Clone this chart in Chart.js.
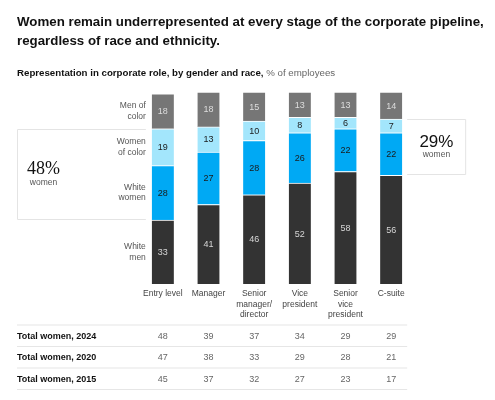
<!DOCTYPE html>
<html><head><meta charset="utf-8">
<script src="https://cdn.jsdelivr.net/npm/chart.js@4.4.0/dist/chart.umd.min.js"></script>
<style>
html,body{margin:0;padding:0;background:#fff;}
#wrap{position:relative;width:495px;height:400px;overflow:hidden;}
canvas{position:absolute;left:0;top:0;}
#title{position:absolute;left:17px;top:13px;font-family:"Liberation Sans",Arial,sans-serif;font-weight:bold;font-size:13.3px;line-height:18.5px;color:#111;white-space:nowrap;}
#sub{position:absolute;left:17px;top:67px;font-family:"Liberation Sans",Arial,sans-serif;font-size:9.7px;line-height:12px;color:#666;white-space:nowrap;}
#sub b{color:#111;}
</style></head>
<body>
<div id="wrap">
<canvas id="c" width="495" height="400"></canvas>
<div id="title">Women remain underrepresented at every stage of the corporate pipeline,<br>regardless of race and ethnicity.</div>
<div id="sub"><b>Representation in corporate role, by gender and race,</b> % of employees</div>
</div>
<script>
const categories = [["Entry level"], ["Manager"], ["Senior", "manager/", "director"], ["Vice", "president"], ["Senior", "vice", "president"], ["C-suite"]];
const whiteMen = [33, 41, 46, 52, 58, 56];
const whiteWomen = [28, 27, 28, 26, 22, 22];
const womenOfColor = [19, 13, 10, 8, 6, 7];
const menOfColor = [18, 18, 15, 13, 13, 14];
const seriesNames = [["White", "men"], ["White", "women"], ["Women", "of color"], ["Men of", "color"]];
const tableLabels = ["Total women, 2024", "Total women, 2020", "Total women, 2015"];
const total2024 = [48, 39, 37, 34, 29, 29];
const total2020 = [47, 38, 33, 29, 28, 21];
const total2015 = [45, 37, 32, 27, 23, 17];
const calloutLeft = ["48%", "women"];
const calloutRight = ["29%", "women"];

const SANS = '"Liberation Sans", Arial, sans-serif';
const SERIF = '"Liberation Serif", "Times New Roman", serif';
const colors = ["#333333", "#00a9f4", "#a3e6fc", "#767676"];
const labelColors = ["#d6d6d6", "#1a1a1a", "#1a1a1a", "#dddddd"];
const tableRows = [total2024, total2020, total2015];

const overlay = {
  id: 'overlay',
  afterDatasetsDraw(chart) {
    const ctx = chart.ctx;
    const area = chart.chartArea;
    const xs = chart.scales.x;
    ctx.save();
    // segment values
    chart.data.datasets.forEach((ds, di) => {
      const meta = chart.getDatasetMeta(di);
      meta.data.forEach((bar, i) => {
        const p = bar.getProps(['x', 'y', 'base'], true);
        ctx.fillStyle = labelColors[di];
        ctx.font = '9px ' + SANS;
        ctx.textAlign = 'center';
        ctx.textBaseline = 'middle';
        ctx.fillText(String(ds.data[i]), p.x, (p.y + p.base) / 2 + 0.5);
      });
    });
    // series labels at left of first bar
    chart.data.datasets.forEach((ds, di) => {
      const bar = chart.getDatasetMeta(di).data[0];
      const p = bar.getProps(['x', 'y', 'base', 'width'], true);
      const lines = seriesNames[di];
      const cy = (p.y + p.base) / 2;
      ctx.fillStyle = '#555';
      ctx.font = '8.5px ' + SANS;
      ctx.textAlign = 'right';
      ctx.textBaseline = 'middle';
      lines.forEach((t, k) => {
        ctx.fillText(t, p.x - p.width / 2 - 6, cy + (k - (lines.length - 1) / 2) * 10.5);
      });
    });
    // category labels
    categories.forEach((lines, i) => {
      const x = xs.getPixelForValue(i);
      ctx.fillStyle = '#444';
      ctx.font = '8.5px ' + SANS;
      ctx.textAlign = 'center';
      ctx.textBaseline = 'middle';
      lines.forEach((t, k) => ctx.fillText(t, x, area.bottom + 10 + k * 10.5));
    });
    // callout boxes
    const woc = chart.getDatasetMeta(2).data;
    const ww = chart.getDatasetMeta(1).data;
    ctx.strokeStyle = '#e4e4e4';
    ctx.lineWidth = 1;
    {
      const b0 = woc[0].getProps(['x', 'y', 'width'], true);
      const w0 = ww[0].getProps(['base'], true);
      const top = Math.round(b0.y) + 0.5, bot = Math.round(w0.base) - 0.5;
      const left = 17.5, right = b0.x - b0.width / 2 - 6;
      ctx.beginPath();
      ctx.moveTo(right, top); ctx.lineTo(left, top); ctx.lineTo(left, bot); ctx.lineTo(right, bot);
      ctx.stroke();
      const cy = (top + bot) / 2;
      ctx.fillStyle = '#111';
      ctx.textAlign = 'center';
      ctx.textBaseline = 'middle';
      ctx.font = '18px ' + SERIF;
      ctx.fillText(calloutLeft[0], 43.5, cy - 5);
      ctx.fillStyle = '#555';
      ctx.font = '8.5px ' + SANS;
      ctx.fillText(calloutLeft[1], 43.5, cy + 8);
    }
    {
      const n = woc.length - 1;
      const b5 = woc[n].getProps(['x', 'y', 'width'], true);
      const w5 = ww[n].getProps(['base'], true);
      const top = Math.round(b5.y) + 0.5, bot = Math.round(w5.base) - 0.5;
      const left = b5.x + b5.width / 2 + 5, right = left + 58.5;
      ctx.beginPath();
      ctx.moveTo(left, top); ctx.lineTo(right, top); ctx.lineTo(right, bot); ctx.lineTo(left, bot);
      ctx.stroke();
      const cx = (left + right) / 2, cy = (top + bot) / 2;
      ctx.fillStyle = '#111';
      ctx.textAlign = 'center';
      ctx.textBaseline = 'middle';
      ctx.font = '17px ' + SANS;
      ctx.fillText(calloutRight[0], cx, cy - 5);
      ctx.fillStyle = '#555';
      ctx.font = '8.5px ' + SANS;
      ctx.fillText(calloutRight[1], cx, cy + 8);
    }
    // table
    const lastBar = woc[woc.length - 1].getProps(['x', 'width'], true);
    const tRight = lastBar.x + lastBar.width / 2 + 5;
    const lineYs = [325, 346.5, 368, 389.5];
    ctx.strokeStyle = '#e6e6e6';
    ctx.lineWidth = 1.2;
    lineYs.forEach(y => {
      ctx.beginPath(); ctx.moveTo(17, y); ctx.lineTo(tRight, y); ctx.stroke();
    });
    tableRows.forEach((row, r) => {
      const cy = (lineYs[r] + lineYs[r + 1]) / 2 + 0.5;
      ctx.fillStyle = '#111';
      ctx.font = 'bold 9px ' + SANS;
      ctx.textAlign = 'left';
      ctx.textBaseline = 'middle';
      ctx.fillText(tableLabels[r], 17, cy);
      ctx.fillStyle = '#666';
      ctx.font = '9px ' + SANS;
      ctx.textAlign = 'center';
      row.forEach((v, i) => ctx.fillText(String(v), xs.getPixelForValue(i), cy));
    });
    ctx.restore();
  }
};

const seriesData = [whiteMen, whiteWomen, womenOfColor, menOfColor];
new Chart(document.getElementById('c'), {
  type: 'bar',
  data: {
    labels: categories.map(c => c.join(' ')),
    datasets: seriesData.map((d, i) => ({
      label: seriesNames[i].join(' '),
      data: d,
      backgroundColor: colors[i],
      borderColor: '#ffffff',
      borderWidth: {top: 1, bottom: 0, left: 0, right: 0},
      borderSkipped: false,
      barThickness: 22
    }))
  },
  options: {
    responsive: false,
    animation: false,
    devicePixelRatio: 1,
    layout: {padding: {left: 140, right: 81, top: 92, bottom: 116}},
    plugins: {legend: {display: false}, tooltip: {enabled: false}, title: {display: false}},
    scales: {
      x: {stacked: true, display: false},
      y: {stacked: true, display: false, min: 0, max: 99}
    }
  },
  plugins: [overlay]
});
</script>
</body></html>
